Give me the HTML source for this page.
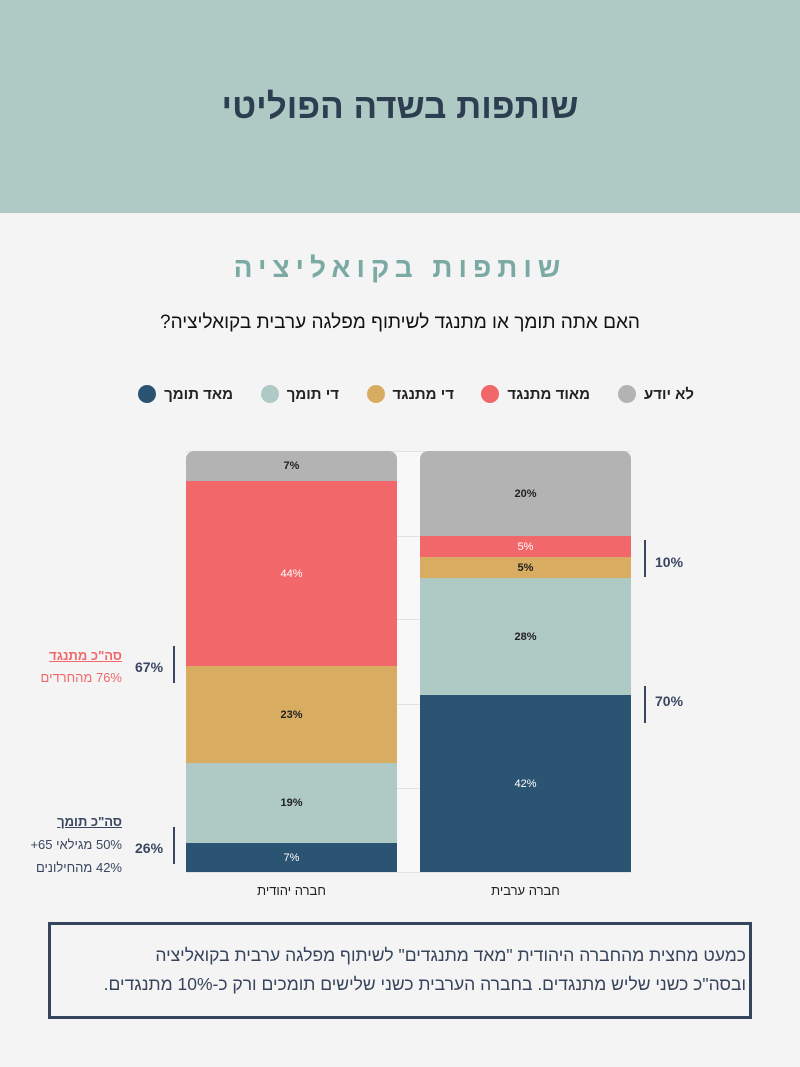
<!DOCTYPE html>
<html><head><meta charset="utf-8"><style>
body{margin:0;width:800px;height:1067px;background:#f4f4f4;position:relative;overflow:hidden;font-family:"Liberation Sans","Noto Sans CJK SC",sans-serif;}
.a{position:absolute;}
.hdr{left:0;top:0;width:800px;height:213px;background:#afc9c4;}
.t{width:800px;text-align:center;left:0;}
.seg{position:absolute;left:0;width:211px;display:flex;align-items:center;justify-content:center;font-size:11px;font-weight:bold;color:#222;}
.leg{top:385px;font-size:15px;font-weight:bold;color:#222;direction:rtl;display:flex;align-items:center;gap:8px;}
.dot{width:18px;height:18px;border-radius:50%;display:inline-block;}
.gl{position:absolute;left:186px;width:445px;height:1px;background:#e2e2e2;}
.br{position:absolute;width:2px;background:#3a4660;}
.pc{position:absolute;font-size:14px;font-weight:bold;color:#3a4660;}
</style></head><body>
<div class="a hdr"></div>
<div class="a t" style="top:87px;font-size:35px;font-weight:bold;color:#2d3e50;direction:rtl">שותפות בשדה הפוליטי</div>
<div class="a t" style="top:252px;font-size:28px;font-weight:bold;color:#7aaaa3;letter-spacing:6px;direction:rtl">שותפות בקואליציה</div>
<div class="a t" style="top:312px;font-size:19px;color:#111;direction:rtl">האם אתה תומך או מתנגד לשיתוף מפלגה ערבית בקואליציה?</div>

<div class="a leg" style="right:106px">לא יודע<span class="dot" style="background:#b3b3b3"></span></div>
<div class="a leg" style="right:210px">מאוד מתנגד<span class="dot" style="background:#f2676a"></span></div>
<div class="a leg" style="right:346px">די מתנגד<span class="dot" style="background:#d9ad61"></span></div>
<div class="a leg" style="right:461px">די תומך<span class="dot" style="background:#afc9c4"></span></div>
<div class="a leg" style="right:567px">מאד תומך<span class="dot" style="background:#2b5372"></span></div>

<div class="a" style="left:397px;top:451px;width:23px;height:421px;background:#f8f8f8"></div>
<div class="gl" style="top:451px"></div><div class="gl" style="top:536px"></div><div class="gl" style="top:619px"></div><div class="gl" style="top:704px"></div><div class="gl" style="top:788px"></div><div class="gl" style="top:872px"></div>

<div class="a" style="left:186px;top:451px;width:211px;height:421px;border-radius:8px 8px 0 0;overflow:hidden">
<div class="seg" style="top:0;height:30px;background:#b3b3b3">7%</div>
<div class="seg" style="top:30px;height:185px;background:#f2676a;color:#fff;font-weight:normal">44%</div>
<div class="seg" style="top:215px;height:97px;background:#d9ad61">23%</div>
<div class="seg" style="top:312px;height:80px;background:#afc9c4">19%</div>
<div class="seg" style="top:392px;height:29px;background:#2b5372;color:#fff;font-weight:normal">7%</div>
</div>
<div class="a" style="left:420px;top:451px;width:211px;height:421px;border-radius:8px 8px 0 0;overflow:hidden">
<div class="seg" style="top:0;height:85px;background:#b3b3b3">20%</div>
<div class="seg" style="top:85px;height:21px;background:#f2676a;color:#fff;font-weight:normal">5%</div>
<div class="seg" style="top:106px;height:21px;background:#d9ad61">5%</div>
<div class="seg" style="top:127px;height:117px;background:#afc9c4">28%</div>
<div class="seg" style="top:244px;height:177px;background:#2b5372;color:#fff;font-weight:normal">42%</div>
</div>

<div class="a" style="left:186px;width:211px;top:883px;text-align:center;font-size:13px;color:#222;direction:rtl">חברה יהודית</div>
<div class="a" style="left:420px;width:211px;top:883px;text-align:center;font-size:13px;color:#222;direction:rtl">חברה ערבית</div>

<div class="br" style="left:644px;top:540px;height:37px"></div><div class="pc" style="left:655px;top:554px">10%</div>
<div class="br" style="left:644px;top:686px;height:37px"></div><div class="pc" style="left:655px;top:693px">70%</div>
<div class="br" style="left:173px;top:646px;height:37px"></div><div class="pc" style="left:135px;top:659px">67%</div>
<div class="br" style="left:173px;top:827px;height:37px"></div><div class="pc" style="left:135px;top:840px">26%</div>

<div class="a" style="right:678px;top:648px;font-size:13px;font-weight:bold;color:#f2676a;text-decoration:underline;direction:rtl">סה"כ מתנגד</div>
<div class="a" style="right:678px;top:670px;font-size:13px;color:#f2676a;direction:rtl">76% מהחרדים</div>
<div class="a" style="right:678px;top:814px;font-size:13px;font-weight:bold;color:#3a4660;text-decoration:underline;direction:rtl">סה"כ תומך</div>
<div class="a" style="right:678px;top:837px;font-size:13px;color:#3a4660;direction:rtl">50% מגילאי 65+</div>
<div class="a" style="right:678px;top:860px;font-size:13px;color:#3a4660;direction:rtl">42% מהחילונים</div>

<div class="a" style="left:48px;top:922px;width:698px;height:91px;border:3px solid #36445c;box-sizing:content-box"></div>
<div class="a" style="right:54px;top:941px;width:700px;font-size:17.5px;line-height:29px;color:#36445c;direction:rtl;text-align:right">כמעט מחצית מהחברה היהודית "מאד מתנגדים" לשיתוף מפלגה ערבית בקואליציה<br>ובסה"כ כשני שליש מתנגדים. בחברה הערבית כשני שלישים תומכים ורק כ-10% מתנגדים.</div>
</body></html>
